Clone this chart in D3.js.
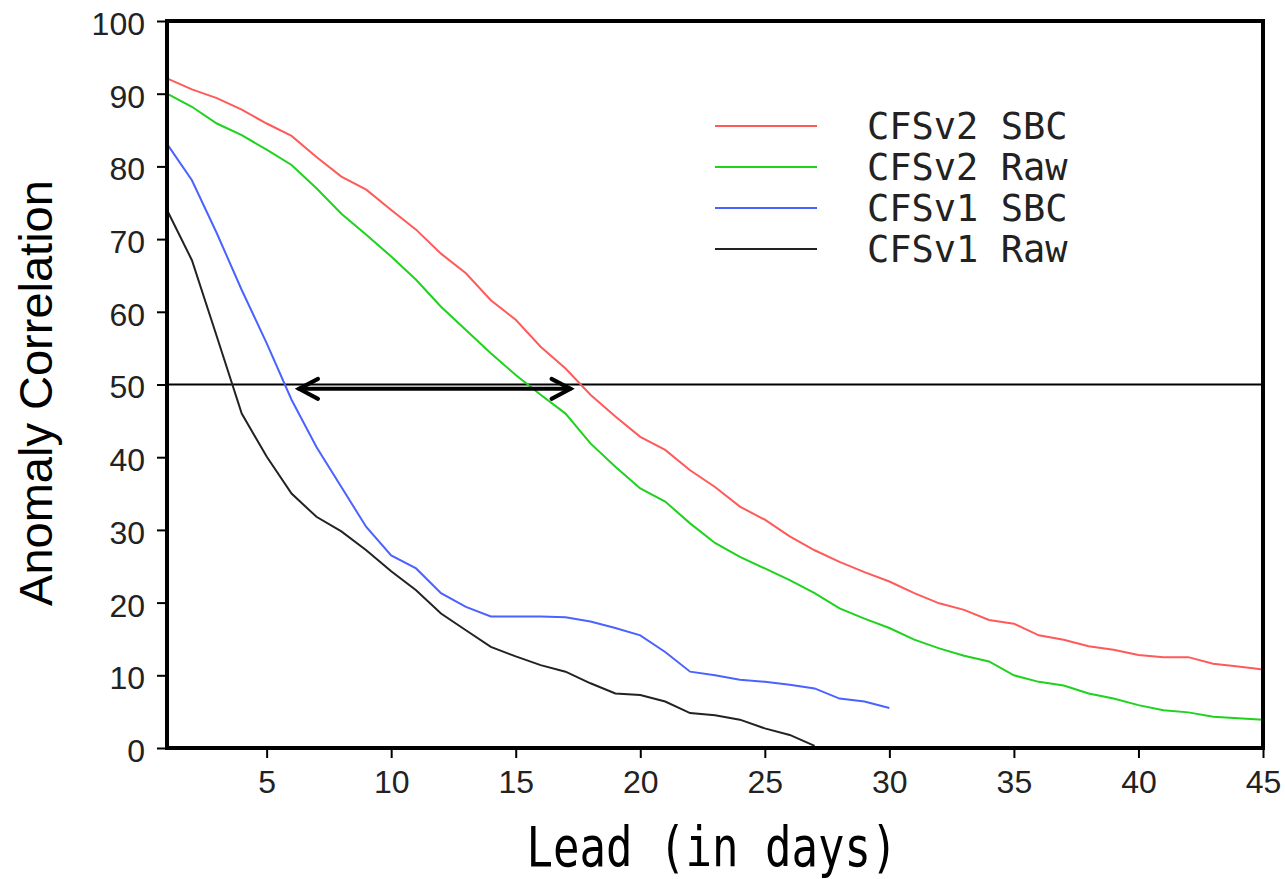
<!DOCTYPE html>
<html>
<head>
<meta charset="utf-8">
<script src="https://cdn.jsdelivr.net/npm/d3@7"></script>
<style>
  html, body { margin: 0; padding: 0; background: #fff; }
  svg { display: block; }
</style>
</head>
<body>
<svg id="chart" width="1285" height="879"></svg>
<script>
// lead days 1..45
const leads = d3.range(1, 46)

const cfsv2Sbc = [92.1, 90.6, 89.4, 87.8, 85.9, 84.2, 81.3, 78.6, 76.8, 74.0,
    71.3, 68.0, 65.3, 61.6, 58.9, 55.2, 52.2, 48.6, 45.6, 42.8,
    41.0, 38.2, 35.9, 33.2, 31.4, 29.1, 27.2, 25.6, 24.2, 22.9,
    21.3, 19.9, 19.0, 17.6, 17.1, 15.5, 14.9, 14.0, 13.5, 12.8,
    12.5, 12.5, 11.6, 11.2, 10.8]

const cfsv2Raw = [90.0, 88.2, 85.9, 84.3, 82.3, 80.2, 77.0, 73.5, 70.6, 67.6,
    64.4, 60.7, 57.5, 54.3, 51.3, 48.6, 46.0, 41.9, 38.7, 35.7,
    33.9, 30.9, 28.2, 26.3, 24.7, 23.1, 21.3, 19.2, 17.8, 16.5,
    14.9, 13.7, 12.7, 11.9, 10.0, 9.1, 8.6, 7.5, 6.8, 5.9,
    5.2, 4.9, 4.3, 4.1, 3.9]

// CFSv1 only runs to day 30 (SBC) and day 27 (raw)
const cfsv1Sbc = [83.1, 78.1, 70.8, 63.0, 55.7, 47.9, 41.4, 35.9, 30.4, 26.5,
    24.7, 21.3, 19.4, 18.1, 18.1, 18.1, 18.0, 17.4, 16.5, 15.5,
    13.2, 10.5, 10.0, 9.4, 9.1, 8.7, 8.2, 6.8, 6.4, 5.5]

const cfsv1Raw = [74.0, 67.1, 56.6, 46.0, 40.1, 35.0, 31.8, 29.8, 27.2, 24.3,
    21.7, 18.5, 16.2, 13.9, 12.6, 11.4, 10.5, 8.9, 7.5, 7.3,
    6.4, 4.8, 4.5, 3.9, 2.7, 1.8, 0.3]

const seriesNames = ['CFSv2 SBC', 'CFSv2 Raw', 'CFSv1 SBC', 'CFSv1 Raw']
const seriesColors = ['#ff5a5a', '#1ed21e', '#4a62ff', '#222222']
const seriesValues = [cfsv2Sbc, cfsv2Raw, cfsv1Sbc, cfsv1Raw]

const xTicks = [5, 10, 15, 20, 25, 30, 35, 40, 45]
const yTicks = [0, 10, 20, 30, 40, 50, 60, 70, 80, 90, 100]

const refLevel = 50
// double arrow drawn between these leads, just under the 50 line
const arrowFrom = 6.3
const arrowTo = 17.2
const arrowLevel = 49.4

const svg = d3.select('#chart')

const plotL = 167, plotR = 1263, plotT = 21, plotB = 748

const x = d3.scaleLinear().domain([1, 45]).range([plotL, plotR])
const y = d3.scaleLinear().domain([0, 100]).range([plotB, plotT])

// y axis
const yAxis = svg.append('g')
    .attr('transform', `translate(${plotL},0)`)
    .call(d3.axisLeft(y).tickValues(yTicks).tickSize(10).tickSizeOuter(0))

yAxis.select('.domain').remove()
yAxis.selectAll('line').attr('stroke', '#000').attr('stroke-width', 2)
yAxis.selectAll('text')
    .attr('x', -22)
    .attr('dy', '0.42em')
    .attr('fill', '#222')
    .style('font-family', '"Liberation Sans", Arial, sans-serif')
    .style('font-size', '32px')

// x axis
const xAxis = svg.append('g')
    .attr('transform', `translate(0,${plotB})`)
    .call(d3.axisBottom(x).tickValues(xTicks).tickSize(10).tickSizeOuter(0))

xAxis.select('.domain').remove()
xAxis.selectAll('line').attr('stroke', '#000').attr('stroke-width', 2)
xAxis.selectAll('text')
    .attr('y', 45)
    .attr('dy', 0)
    .attr('fill', '#222')
    .style('font-family', '"Liberation Sans", Arial, sans-serif')
    .style('font-size', '32px')

// reference line at 50
svg.append('line')
    .attr('x1', x(1)).attr('x2', x(45))
    .attr('y1', y(refLevel)).attr('y2', y(refLevel))
    .attr('stroke', '#000')
    .attr('stroke-width', 2)

// curves
const line = d3.line()
    .x((d, i) => x(leads[i]))
    .y(d => y(d))

svg.selectAll('.curve')
    .data(seriesValues)
    .enter()
    .append('path')
    .attr('class', 'curve')
    .attr('d', d => line(d))
    .attr('fill', 'none')
    .attr('stroke', (d, i) => seriesColors[i])
    .attr('stroke-width', 2)

// double headed arrow
const ax1 = x(arrowFrom), ax2 = x(arrowTo), ay = y(arrowLevel)
const arrow = svg.append('g')
    .attr('stroke', '#000')
    .attr('stroke-width', 4)
    .attr('fill', 'none')
    .attr('stroke-linecap', 'round')
    .attr('stroke-linejoin', 'miter')

arrow.append('line')
    .attr('x1', ax1).attr('x2', ax2)
    .attr('y1', ay).attr('y2', ay)

arrow.append('path')
    .attr('d', `M${ax1 + 19},${ay - 10} L${ax1},${ay} L${ax1 + 19},${ay + 10}`)
arrow.append('path')
    .attr('d', `M${ax2 - 19},${ay - 10} L${ax2},${ay} L${ax2 - 19},${ay + 10}`)

// frame
svg.append('rect')
    .attr('x', plotL).attr('y', plotT)
    .attr('width', plotR - plotL).attr('height', plotB - plotT)
    .attr('fill', 'none')
    .attr('stroke', '#000')
    .attr('stroke-width', 4)

// legend
const legend = svg.append('g')
const legendY = d => 126 + d * 41

seriesNames.forEach((name, i) => {
    legend.append('line')
        .attr('x1', 715).attr('x2', 817)
        .attr('y1', legendY(i)).attr('y2', legendY(i))
        .attr('stroke', seriesColors[i])
        .attr('stroke-width', 2)

    legend.append('text')
        .attr('x', 867)
        .attr('y', legendY(i) + 13)
        .attr('fill', '#222')
        .style('font-family', '"DejaVu Sans Mono", monospace')
        .style('font-size', '37px')
        .text(name)
})

// axis titles
svg.append('text')
    .attr('transform', 'translate(52,393) rotate(-90)')
    .attr('text-anchor', 'middle')
    .attr('fill', '#000')
    .style('font-family', '"Liberation Sans", Arial, sans-serif')
    .style('font-size', '47px')
    .text('Anomaly Correlation')

svg.append('text')
    .attr('transform', 'translate(712,866) scale(1,1.25)')
    .attr('text-anchor', 'middle')
    .attr('fill', '#000')
    .style('font-family', '"DejaVu Sans Mono", monospace')
    .style('font-size', '44px')
    .text('Lead (in days)')
</script>
</body>
</html>
